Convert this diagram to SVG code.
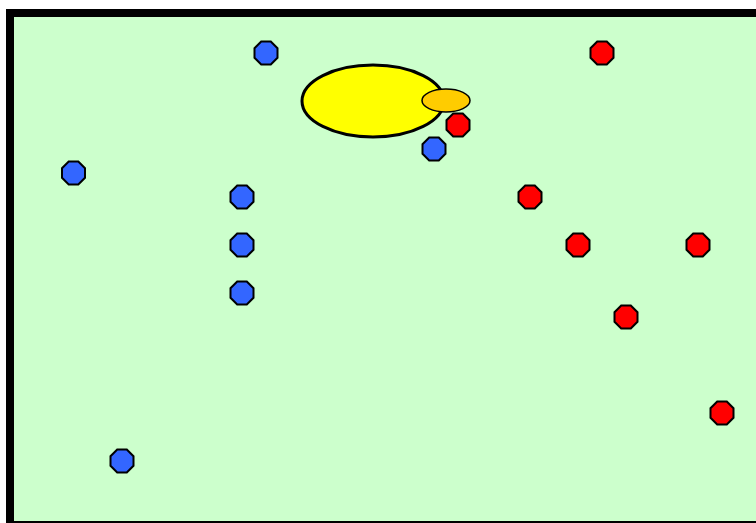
<svg xmlns="http://www.w3.org/2000/svg" xmlns:xlink="http://www.w3.org/1999/xlink" width="756" height="523" viewBox="0 0 756 523">
<style>
.field{fill:#CCFFCC;stroke:#000;stroke-width:8}
.blue{fill:#3366FF;stroke:#000;stroke-width:2}
.red{fill:#FF0000;stroke:#000;stroke-width:2}
.ball{fill:#FFFF00;stroke:#000;stroke-width:3}
.disc{fill:#FFCC00;stroke:#000;stroke-width:1.5}
</style>
<defs>
<polygon id="oct" points="-4.8,-11.5 4.8,-11.5 11.5,-4.8 11.5,4.8 4.8,11.5 -4.8,11.5 -11.5,4.8 -11.5,-4.8"/>
</defs>
<rect width="756" height="523" fill="#fff"/>
<rect class="field" x="10" y="13" width="760" height="512"/>
<g id="ellipse-big"><ellipse class="ball" cx="373" cy="101" rx="71" ry="36"/></g>
<g id="ellipse-small"><ellipse class="disc" cx="446" cy="100.5" rx="24" ry="11.5"/></g>
<g id="blue-players">
<use class="blue" xlink:href="#oct" x="266" y="53"/>
<use class="blue" xlink:href="#oct" x="73.5" y="173"/>
<use class="blue" xlink:href="#oct" x="242" y="197"/>
<use class="blue" xlink:href="#oct" x="242" y="245"/>
<use class="blue" xlink:href="#oct" x="242" y="293"/>
<use class="blue" xlink:href="#oct" x="434" y="149"/>
<use class="blue" xlink:href="#oct" x="122" y="461"/>
</g>
<g id="red-players">
<use class="red" xlink:href="#oct" x="602" y="53"/>
<use class="red" xlink:href="#oct" x="458" y="125"/>
<use class="red" xlink:href="#oct" x="530" y="197"/>
<use class="red" xlink:href="#oct" x="578" y="245"/>
<use class="red" xlink:href="#oct" x="698" y="245"/>
<use class="red" xlink:href="#oct" x="626" y="317"/>
<use class="red" xlink:href="#oct" x="722" y="413"/>
</g>
</svg>
